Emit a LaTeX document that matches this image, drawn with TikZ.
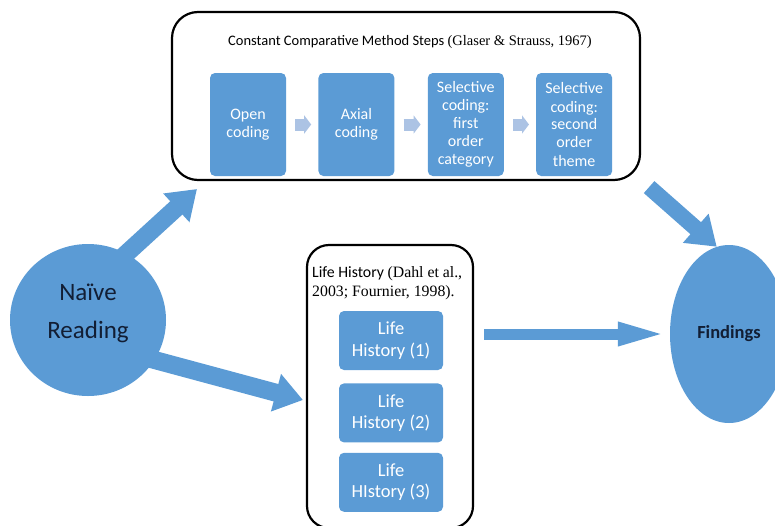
\documentclass[tikz,border=0pt]{standalone}
\usepackage{fontspec}
\setmainfont{Carlito}
\newfontfamily\timesfam{Liberation Serif}
\usetikzlibrary{arrows.meta,shapes.geometric,positioning}

\definecolor{stepblue}{RGB}{91,155,213}
\definecolor{paleblue}{RGB}{172,195,228}
\definecolor{darkink}{RGB}{18,30,52}

\tikzset{
  stepbox/.style={fill=stepblue, rounded corners=5pt, text=white, align=center,
    minimum width=76pt, minimum height=103pt, inner sep=0pt,
    font=\fontsize{16}{18}\selectfont},
  lifebox/.style={fill=stepblue, rounded corners=5pt, text=white, align=center,
    minimum width=104pt, minimum height=59pt, inner sep=0pt,
    font=\fontsize{18.5}{21.5}\selectfont},
  frame/.style={draw, line width=2.2pt, rounded corners=26pt, inner sep=0pt},
  blob/.style={ellipse, fill=stepblue, inner sep=0pt},
  fatarrow/.style={draw=stepblue, line width=18pt, -{Triangle[length=28pt,width=37pt]}},
  longarrow/.style={draw=stepblue, line width=11pt, -{Triangle[length=50pt,width=21pt]}},
  chevron/.style={draw=paleblue, line width=12pt, -{Triangle[length=7pt,width=18pt]},
    shorten <=9pt, shorten >=7pt},
}

\begin{document}
\begin{tikzpicture}[x=1pt,y=-1pt]
\clip (0,0) rectangle (775,525);
\useasboundingbox (0,0) rectangle (775,525);

% comparative method steps
\node[frame, minimum width=468pt, minimum height=168pt] (cmframe) at (406,96) {};
\node[anchor=base west, inner sep=0pt, font=\fontsize{14.5}{17}\selectfont] (cmtitle) at (228,45)
  {Constant Comparative Method Steps {\timesfam(Glaser \& Strauss, 1967)}};
\node[stepbox] (open) at (248,124.5) {Open\\coding};
\node[stepbox, right=32pt of open] (axial) {Axial\\coding};
\node[stepbox, right=33pt of axial] (selfirst) {Selective\\coding:\\first\\order\\category};
\node[stepbox, right=32pt of selfirst] (selsecond) {Selective\\coding:\\second\\order\\theme};
\draw[chevron] (open) -- (axial);
\draw[chevron] (axial) -- (selfirst);
\draw[chevron] (selfirst) -- (selsecond);

% life histories
\node[frame, rounded corners=22pt, minimum width=166pt, minimum height=283pt] (lifeframe) at (390,386.5) {};
\node[anchor=west, inner sep=0pt, align=left, font=\fontsize{15.8}{19}\selectfont] (lifetitle) at (312,283)
  {Life History {\timesfam(Dahl et al.,}\\{\timesfam 2003; Fournier, 1998).}};
\node[lifebox] (lifeone) at (391,340.5) {Life\\History (1)};
\node[lifebox, below=13pt of lifeone] (lifetwo) {Life\\History (2)};
\node[lifebox, below=10pt of lifetwo] (lifethree) {Life\\HIstory (3)};

% reading and findings
\node[blob, minimum width=156pt, minimum height=152pt] (naive) at (88,320) {};
\node[align=center, text=darkink, font=\fontsize{25}{38}\selectfont] (naivetext) at (88,313.5) {Naïve\\Reading};
\node[blob, minimum width=118pt, minimum height=178pt, text=darkink,
  font=\bfseries\fontsize{18.5}{22}\selectfont] (findings) at (729,334) {Findings};

\coordinate (cmtip) at (197,189);
\coordinate (lifetip) at (303,400);
\draw[fatarrow, shorten <=-6pt] (naive.60) -- (cmtip);
\draw[fatarrow, shorten <=-6pt] (naive.-31) -- (lifetip);
\draw[longarrow, shorten <=10pt, shorten >=2pt] (lifeframe.east |- findings) -- (findings.west);
\draw[fatarrow, line width=16pt] ([shift={(8,6)}]cmframe.south east) -- (findings.98);
\end{tikzpicture}
\end{document}
